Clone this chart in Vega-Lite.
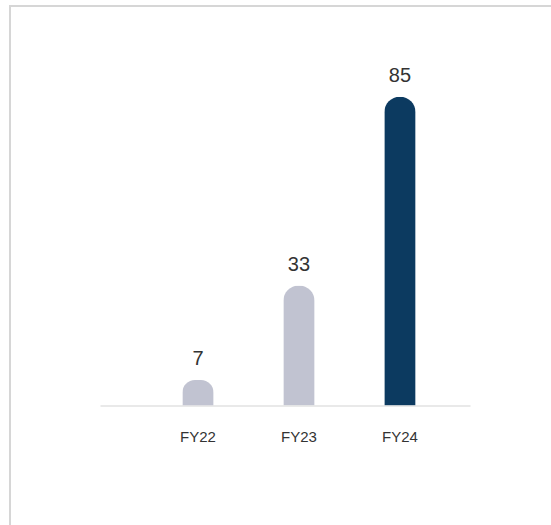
{
  "$schema": "https://vega.github.io/schema/vega-lite/v6.json",
  "width": 542,
  "height": 520,
  "padding": {"left": 10, "top": 6, "right": 0, "bottom": 0},
  "autosize": {"type": "none"},
  "background": "#ffffff",
  "config": {
    "view": {"stroke": "#d6d6d6", "strokeWidth": 2},
    "font": "Liberation Sans"
  },
  "data": {
    "values": [
      {"year": "FY22", "value": 7},
      {"year": "FY23", "value": 33},
      {"year": "FY24", "value": 85}
    ]
  },
  "encoding": {
    "x": {
      "field": "year",
      "type": "nominal",
      "sort": null,
      "scale": {"range": [90, 460], "paddingInner": 0.69, "paddingOuter": 0.677, "align": 0.602},
      "axis": {
        "title": null,
        "ticks": false,
        "labelAngle": 0,
        "labelFontSize": 15,
        "labelColor": "#333333",
        "labelFont": "Liberation Sans",
        "labelPadding": 24,
        "domainColor": "#e2e2e2",
        "domainWidth": 1.5,
        "offset": -120.5
      }
    },
    "y": {
      "field": "value",
      "type": "quantitative",
      "scale": {"domain": [0, 85], "range": [399.5, 90.7], "nice": false, "zero": true},
      "axis": null
    }
  },
  "layer": [
    {
      "mark": {"type": "bar", "cornerRadiusTopLeft": 15.5, "cornerRadiusTopRight": 15.5},
      "encoding": {
        "color": {
          "field": "year",
          "type": "nominal",
          "scale": {"domain": ["FY22", "FY23", "FY24"], "range": ["#c1c3d1", "#c1c3d1", "#0c3a60"]},
          "legend": null
        }
      }
    },
    {
      "mark": {"type": "text", "baseline": "alphabetic", "dy": -15, "fontSize": 20, "color": "#333333", "font": "Liberation Sans"},
      "encoding": {"text": {"field": "value", "type": "quantitative"}}
    }
  ]
}
